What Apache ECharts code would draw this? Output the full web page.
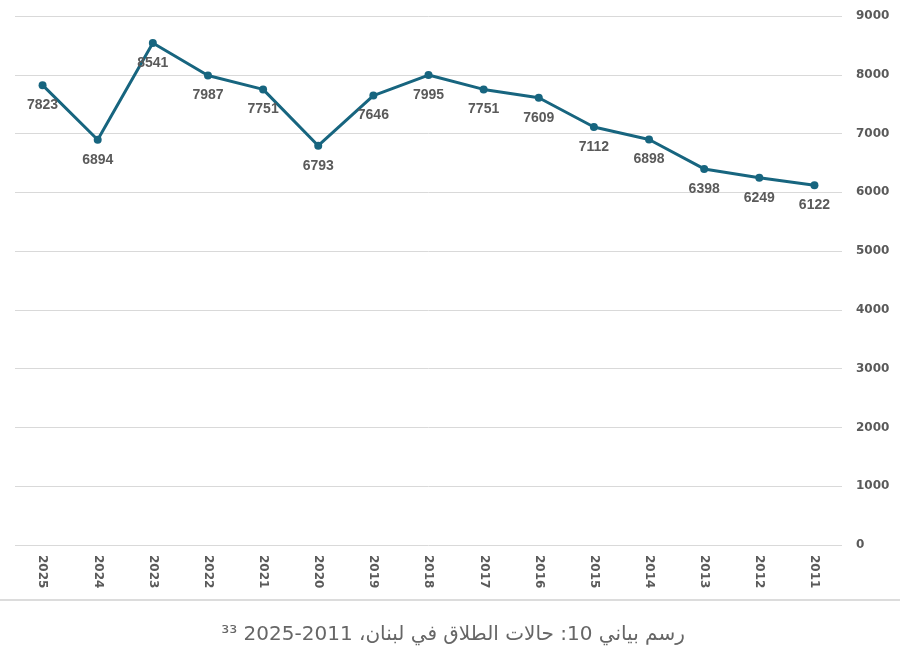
<!DOCTYPE html>
<html lang="ar">
<head>
    <meta charset="UTF-8">
    <title>حالات الطلاق في لبنان</title>
    <script src="https://cdn.jsdelivr.net/npm/echarts@6/dist/echarts.min.js"></script>
    <style>
        html, body { margin: 0; padding: 0; background: #fff; }
        #main { width: 900px; height: 670px; }
    </style>
</head>
<body>
<div id="main"></div>
<script>
    // السنوات كما تظهر من اليسار إلى اليمين
    var years = ['2025', '2024', '2023', '2022', '2021', '2020', '2019', '2018',
                 '2017', '2016', '2015', '2014', '2013', '2012', '2011'];
    var divorces = [7823, 6894, 8541, 7987, 7751, 6793, 7646, 7995,
                    7751, 7609, 7112, 6898, 6398, 6249, 6122];
    var yTicks = [0, 1000, 2000, 3000, 4000, 5000, 6000, 7000, 8000, 9000];
    var caption = '\u202Bرسم بياني 10: حالات الطلاق في لبنان، 2011-2025 \u00B3\u00B3\u202C';

    var myChart = echarts.init(document.getElementById('main'));

    var option = {
        animation: false,
        grid: {
            left: 15,
            right: 58,
            top: 16,
            bottom: 125
        },
        xAxis: {
            type: 'category',
            data: years,
            axisLine: { show: false },
            axisTick: { show: false },
            axisLabel: {
                rotate: -90,
                margin: 10,
                color: '#5a5a5a',
                fontFamily: 'DejaVu Sans',
                fontWeight: 'bold',
                fontSize: 12
            }
        },
        yAxis: {
            type: 'value',
            position: 'right',
            min: yTicks[0],
            max: yTicks[yTicks.length - 1],
            interval: 1000,
            axisLine: { show: false },
            axisTick: { show: false },
            axisLabel: {
                margin: 14,
                color: '#5a5a5a',
                fontFamily: 'DejaVu Sans',
                fontWeight: 'bold',
                fontSize: 12,
                formatter: function (v) { return String(v); }
            },
            splitLine: { lineStyle: { color: '#d9d9d9', width: 1 } }
        },
        series: [{
            type: 'line',
            data: divorces,
            symbol: 'circle',
            symbolSize: 8,
            lineStyle: { color: '#17657f', width: 3 },
            itemStyle: { color: '#17657f' },
            label: {
                show: true,
                position: 'bottom',
                distance: 9,
                color: '#5a5a5a',
                fontFamily: 'Liberation Sans',
                fontWeight: 'bold',
                fontSize: 14
            }
        }],
        graphic: [
            {
                type: 'line',
                shape: { x1: 0, y1: 600, x2: 900, y2: 600 },
                style: { stroke: '#d0d0d0', lineWidth: 1.5 }
            },
            {
                type: 'text',
                x: 453,
                y: 635,
                style: {
                    text: caption,
                    align: 'center',
                    verticalAlign: 'middle',
                    fill: '#666',
                    font: '20px "DejaVu Sans"'
                }
            }
        ]
    };

    myChart.setOption(option);
</script>
</body>
</html>
